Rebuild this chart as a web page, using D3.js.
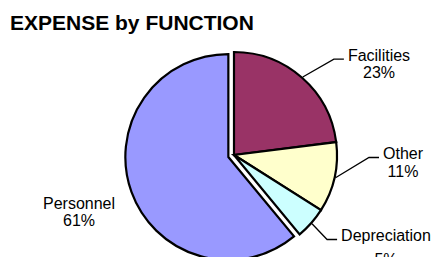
<!DOCTYPE html>
<html lang="en">
    <head>
        <meta charset="utf-8">
        <title>EXPENSE by FUNCTION</title>
        <script type="text/javascript" src="https://cdn.jsdelivr.net/npm/d3@7"></script>
        <style type="text/css">
            body { margin: 0; background: #fff; }
            text { font-family: "Liberation Sans", Arial, sans-serif; }
        </style>
    </head>
    <body>
        <script type="text/javascript">
        // Data
        var categories = ["Facilities", "Other", "Depreciation", "Personnel"];
        var values     = [23, 11, 5, 61];
        var colors     = ["#993366", "#FFFFCC", "#CCFFFF", "#9999FF"];

        var svgWidth  = 432;
        var svgHeight = 257;
        var cx = 234, cy = 155;
        var radius = 103;
        var explode = 6;   // Personnel slice pulled out

        // label anchor (centre x, first baseline, line gap) relative to pie centre
        var labelOffset = {
            "Facilities":   [145, -94.3, 16.8],
            "Other":        [169, 4, 17.5],
            "Depreciation": [152, 86, 23.5],
            "Personnel":    [-155, 53.7, 17.3]
        };

        var svg = d3.select("body")
            .append("svg")
            .attr("width", svgWidth)
            .attr("height", svgHeight);

        svg.append("text")
            .attr("x", 10)
            .attr("y", 29.5)
            .attr("font-size", "21px")
            .attr("font-weight", "bold")
            .text("EXPENSE by FUNCTION");

        var data = categories.map(function(c, i) {
            return { name: c, value: values[i], color: colors[i] };
        });

        var pie = d3.pie().sort(null).value(function(d) { return d.value; });
        var arcs = pie(data);

        var arc = d3.arc().innerRadius(0).outerRadius(radius);

        function offsetOf(d) {
            if (d.data.name !== "Personnel") return [0, 0];
            var a = (d.startAngle + d.endAngle) / 2;
            return [Math.sin(a) * explode, -Math.cos(a) * explode];
        }

        var g = svg.append("g").attr("transform", "translate(" + cx + "," + cy + ")");

        g.selectAll("path")
            .data(arcs)
            .enter()
            .append("path")
            .attr("d", arc)
            .attr("transform", function(d) {
                var o = offsetOf(d);
                return "translate(" + o[0] + "," + o[1] + ")";
            })
            .attr("fill", function(d) { return d.data.color; })
            .attr("stroke", "#000")
            .attr("stroke-width", 2.2)
            .attr("stroke-linejoin", "miter");

        // labels
        var labels = g.selectAll("g.label")
            .data(arcs)
            .enter()
            .append("g")
            .attr("class", "label");

        labels.each(function(d) {
            var sel = d3.select(this);
            var off = labelOffset[d.data.name];
            var t = sel.append("text")
                .attr("text-anchor", "middle")
                .attr("font-size", "16px")
                .attr("fill", "#000");
            t.append("tspan").attr("x", off[0]).attr("y", off[1]).text(d.data.name);
            t.append("tspan").attr("x", off[0]).attr("y", off[1] + off[2])
                .text(Math.round(d.data.value) + "%");

            if (d.data.name === "Personnel") return;

            // leader line: slice edge -> elbow -> label
            var box = t.node().getBBox();
            var a = (d.startAngle + d.endAngle) / 2;
            var start = [Math.sin(a) * (radius + 1), -Math.cos(a) * (radius + 1)];
            var endX = box.x - 4;
            var endY = off[1] - 1.5;
            var elbowX = endX - 10;
            sel.append("path")
                .attr("d", d3.line()([start, [elbowX, endY], [endX, endY]]))
                .attr("fill", "none")
                .attr("stroke", "#000")
                .attr("stroke-width", 1.3);
        });
        </script>
    </body>
</html>
